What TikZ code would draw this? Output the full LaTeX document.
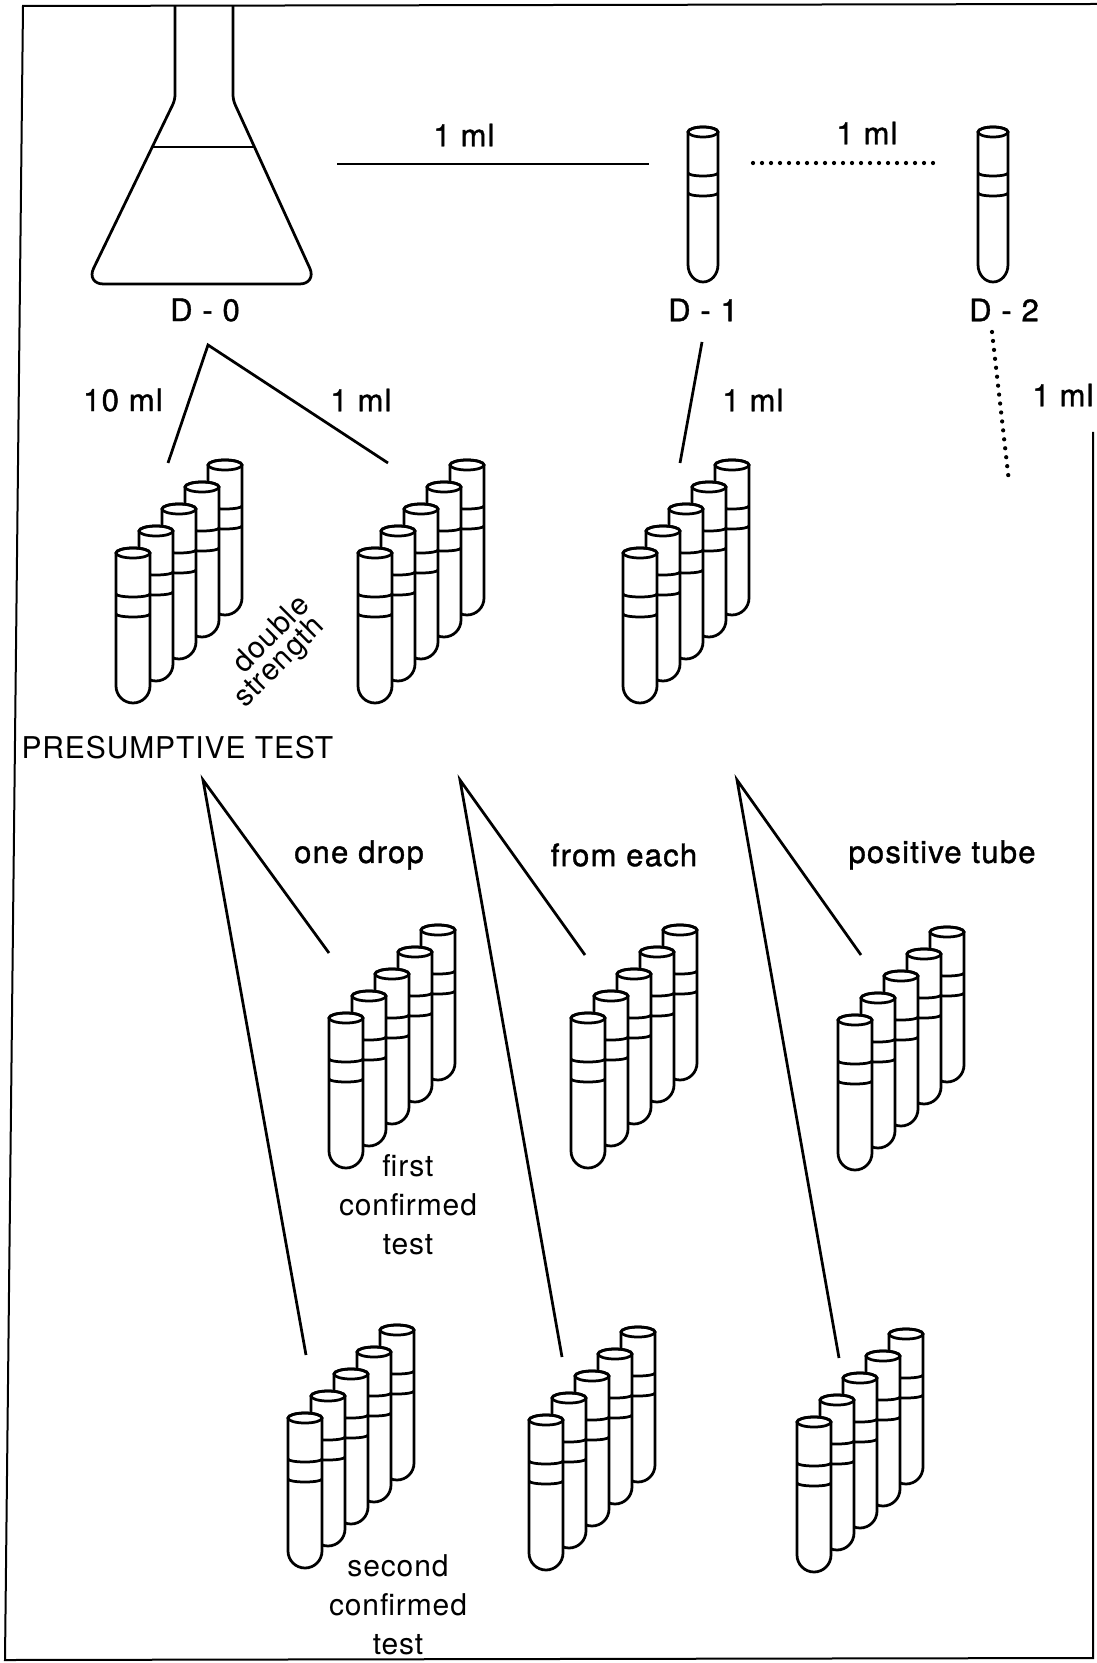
\documentclass[tikz,border=0pt]{standalone}
\usepackage{fontspec}
\setmainfont[LetterSpace=3]{TeX Gyre Heros}
\newfontfamily\labelfont[LetterSpace=4, FakeBold=1.2]{TeX Gyre Heros}
\usetikzlibrary{calc}

% one tube: top rim at the origin, y grows downwards
\tikzset{
  testtube/.pic={
    \filldraw[fill=white] (-17,0) -- (-17,133)
      arc[start angle=180, end angle=0, radius=17] -- (17,0)
      arc[start angle=0, end angle=-180, x radius=17, y radius=5] -- cycle;
    \draw (0,0) ellipse[x radius=17, y radius=5];
    \draw (-17,41) arc[start angle=180, end angle=0, x radius=17, y radius=3];
    \draw (-17,61) arc[start angle=180, end angle=0, x radius=17, y radius=3];
  },
  % five tubes in a row, back ones first
  rack/.pic={
    \foreach \i in {4,3,2,1,0}
      \pic at (23*\i,-22*\i) {testtube};
  }
}

\begin{document}
\begin{tikzpicture}[
x=0.4pt, y=-0.4pt,
font=\fontsize{12}{15.6}\selectfont,
txt/.style={inner sep=0pt, align=center},
heavy/.style={txt, font=\fontsize{12.4}{15.6}\selectfont\labelfont},
glass/.style={line width=1.1pt, line join=round},
feed/.style={line width=1.1pt},
dotfeed/.style={line width=1.7pt, line cap=round, dash pattern=on 0pt off 3.6pt},
frame/.style={line width=0.8pt}
]
\useasboundingbox (0,0) rectangle (1097,1663);

% border
\draw[frame] (1097,4) -- (23,6) -- (5,1660) -- (1093,1658) -- (1093,432);

% flask
\draw[glass] (175,6) [rounded corners=2pt] -- (175,100)
  [rounded corners=7pt] -- (86,284) -- (317,284)
  [rounded corners=2pt] -- (233,100) [sharp corners] -- (233,6);
\draw[glass] (152,147) -- (255,147);

% dilution tubes
\pic[xscale=0.88, line width=1.1pt] at (703,132) {testtube};
\pic[xscale=0.88, line width=1.1pt] at (993,132) {testtube};

\node[heavy] (d0) at (205,310) {D - 0};
\node[heavy] (d1) at (703,310) {D - 1};
\node[heavy] (d2) at (1004,310) {D - 2};

\coordinate (flaskout) at (337,164);
\coordinate (d1in) at (649,164);
\coordinate (d1out) at (753,163);
\coordinate (d2in) at (935,163);
\draw[feed] (flaskout) -- (d1in);
\draw[dotfeed] (d1out) -- (d2in);
\node[heavy] (mlA) at (464,135) {1 ml};
\node[heavy] (mlB) at (867,133) {1 ml};

% presumptive test
\coordinate (d0split) at (208,345);
\coordinate (presAin) at (168,463);
\coordinate (presBin) at (388,463);
\coordinate (d1split) at (702,342);
\coordinate (presCin) at (680,463);
\coordinate (d2split) at (992,332);
\coordinate (d2down) at (1009,482);
\draw[feed] (presAin) -- (d0split) -- (presBin);
\draw[feed] (d1split) -- (presCin);
\draw[dotfeed] (d2split) -- (d2down);
\node[heavy] (mlC) at (123,400) {10 ml};
\node[heavy] (mlD) at (361,400) {1 ml};
\node[heavy] (mlE) at (753,400) {1 ml};
\node[heavy] (mlF) at (1063,395) {1 ml};

\pic[line width=1.1pt] (presA) at (133,553) {rack};
\pic[line width=1.1pt] (presB) at (375,553) {rack};
\pic[line width=1.1pt] (presC) at (640,553) {rack};

% slanted label between the first two racks
\path (230,673) -- node[txt, sloped] (dbl) {double} (310,593);
\path (240,703) -- node[txt, sloped] (strg) {strength} (320,623);
\node[txt, anchor=west] (pres) at (21,748) {PRESUMPTIVE TEST};

% confirmed tests
\coordinate (confA) at (203,780);
\coordinate (confB) at (460,780);
\coordinate (confC) at (737,780);
\coordinate (firstA) at (329,953);
\coordinate (firstB) at (585,955);
\coordinate (firstC) at (861,955);
\coordinate (secondA) at (306,1355);
\coordinate (secondB) at (562,1357);
\coordinate (secondC) at (839,1358);
\draw[feed] (firstA) -- (confA) -- (secondA);
\draw[feed] (firstB) -- (confB) -- (secondB);
\draw[feed] (firstC) -- (confC) -- (secondC);

\node[heavy] (drop) at (359,855) {one drop};
\node[heavy] (each) at (624,855) {from each};
\node[heavy] (pos) at (942,855) {positive tube};

\pic[line width=1.1pt] (cfA) at (346,1018) {rack};
\pic[line width=1.1pt] (cfB) at (588,1018) {rack};
\pic[line width=1.1pt] (cfC) at (855,1020) {rack};
\node[txt] (first) at (408,1205) {first\\confirmed\\test};

\pic[line width=1.1pt] (csA) at (305,1418) {rack};
\pic[line width=1.1pt] (csB) at (546,1420) {rack};
\pic[line width=1.1pt] (csC) at (814,1422) {rack};
\node[txt] (second) at (398,1605) {second\\confirmed\\test};

\end{tikzpicture}
\end{document}
